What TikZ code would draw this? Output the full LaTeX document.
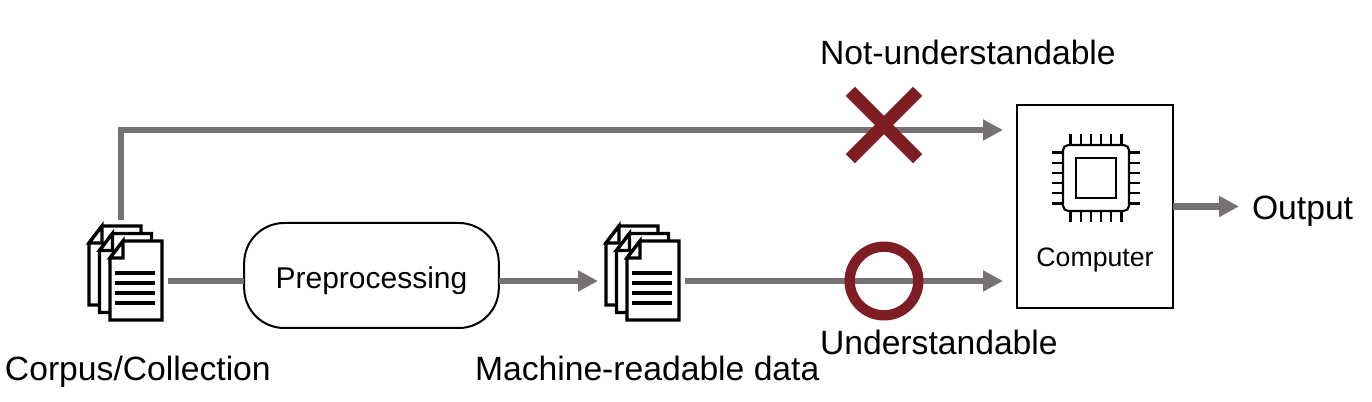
\documentclass[tikz,border=0pt]{standalone}
\usepackage{fontspec}
\setmainfont{Liberation Sans}
\usetikzlibrary{arrows.meta,shapes.misc}
\definecolor{flowGray}{HTML}{767271}
\definecolor{markRed}{HTML}{7F1D25}
\begin{document}
\begin{tikzpicture}[
x=0.75pt, y=-0.75pt,
lab/.style={font=\fontsize{25.25}{30}\selectfont, inner sep=0pt, outer sep=0pt},
smalllab/.style={font=\fontsize{20}{24}\selectfont, inner sep=0pt, outer sep=0pt},
prebox/.style={draw=black, line width=1.5pt, rounded corners=30pt, fill=white, minimum width=191pt, minimum height=78.75pt, inner sep=0pt, outer sep=0pt, text height=24pt, text depth=4.7pt, font=\fontsize{22.5}{26}\selectfont},
compbox/.style={draw=black, line width=1.5pt, minimum width=117pt, minimum height=152.25pt, inner sep=0pt, outer sep=0pt},
docbox/.style={minimum width=55.5pt, minimum height=71pt, inner sep=0pt, outer sep=0pt},
arr/.style={-{Triangle[length=15pt,width=15pt]}, line width=5pt, draw=flowGray},
plainline/.style={line width=5pt, draw=flowGray},
nomark/.style={draw=markRed, cross out, line width=9.75pt, minimum size=50.5pt, inner sep=0pt, outer sep=0pt},
okmark/.style={draw=markRed, circle, line width=7.75pt, minimum size=51.5pt, inner sep=0pt, outer sep=0pt},
pics/docstack/.style={code={
  \foreach \dx/\dy in {-21/-15, -10.5/-7.5, 0/0} {
    \draw[line width=2.5pt, fill=white, line join=miter] (\dx-15,\dy-15) -- (\dx-2,\dy-32) -- (\dx+37,\dy-32) -- (\dx+37,\dy+47) -- (\dx-15,\dy+47) -- cycle;
    \draw[line width=2.5pt, fill=white] (\dx-2,\dy-32) -- (\dx-2,\dy-15) -- (\dx-15,\dy-15) -- cycle;
  }
  \foreach \ly in {0,10,20,30}
    \draw[line width=2.5pt] (-10,\ly) -- (30,\ly);
}},
pics/chip/.style={code={
  \foreach \k in {0,...,5} {
    \draw[line width=1.6pt] (-25.5+10.2*\k,-44) -- (-25.5+10.2*\k,-33);
    \draw[line width=1.6pt] (-25.5+10.2*\k,33) -- (-25.5+10.2*\k,44);
    \draw[line width=1.6pt] (-44,-25.5+10.2*\k) -- (-33,-25.5+10.2*\k);
    \draw[line width=1.6pt] (33,-25.5+10.2*\k) -- (44,-25.5+10.2*\k);
  }
  \draw[line width=1.6pt, rounded corners=4pt] (-33,-33) rectangle (33,33);
  \draw[line width=1.9pt] (-20,-20) rectangle (20,20);
}}
]
\useasboundingbox (0,0) rectangle (1372,402);

% Main blocks
\node[docbox] (corpus) at (125,273) {};
\node[prebox] (prep) at (371.5,275.5) {Preprocessing};
\node[docbox] (mrd) at (642,273) {};
\node[compbox] (comp) at (1095,206.5) {};
\coordinate (topend) at (1003,130);
\coordinate (botend) at (1003,281);
\coordinate (mrdin) at (598,281);

% Connectors
\draw[arr] ([xshift=-3pt,yshift=4.5pt]corpus.north) |- (topend);
\draw[plainline] ([xshift=4.5pt,yshift=-6pt]corpus.east) -- ([yshift=-4.125pt]prep.west);
\draw[arr] ([yshift=-4.125pt]prep.east) -- (mrdin);
\draw[arr] ([xshift=4.5pt,yshift=-6pt]mrd.east) -- (botend);
\node[lab, anchor=west] (output) at (1252,211) {Output};
\draw[arr] (comp.east) -- ([xshift=-9.75pt,yshift=3.4pt]output.west);

% Icons
\pic at (125,273) {docstack};
\pic at (642,273) {docstack};
\pic at (1096,178) {chip};

% Marks
\node[nomark] (nope) at (884,125) {};
\node[okmark] (okay) at (884,281) {};

% Labels
\node[lab, anchor=base west] (notlab) at (820,65) {Not-understandable};
\node[lab, anchor=base west] (oklab) at (820,355) {Understandable};
\node[lab, anchor=base west] (corpuslab) at (5,381) {Corpus/Collection};
\node[lab, anchor=base west] (mrdlab) at (475,381) {Machine-readable data};
\node[smalllab] (complab) at (1095,260) {Computer};
\end{tikzpicture}
\end{document}
